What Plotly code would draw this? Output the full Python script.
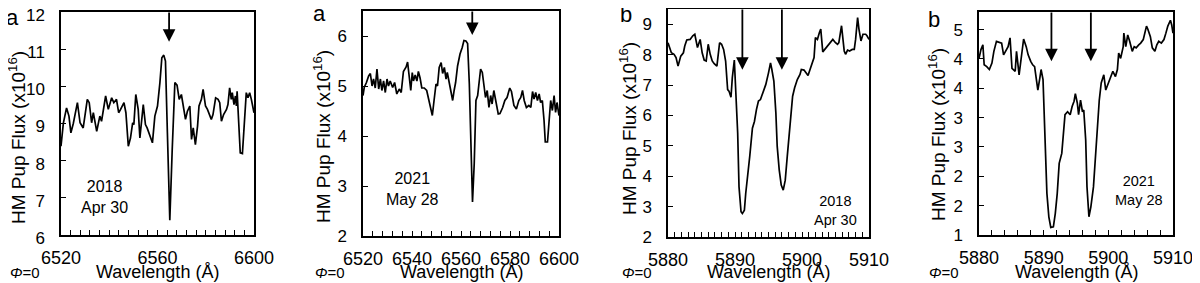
import plotly.graph_objects as go

# ---------------- data ----------------
wl_a1 = [6520.0, 6521.0, 6522.3, 6523.3, 6524.1, 6525.1, 6526.8, 6527.9, 6529.2, 6530.9, 6531.7, 6532.7,
         6533.4, 6534.8, 6536.1, 6536.8, 6538.5, 6539.6, 6541.0, 6541.9, 6543.0, 6543.9, 6544.7, 6546.1,
         6546.9, 6547.9, 6548.8, 6549.7, 6550.2, 6551.0, 6552.0, 6552.7, 6554.1, 6555.0, 6555.7, 6556.8,
         6557.9, 6558.9, 6560.0, 6561.0, 6561.8, 6562.6, 6563.3, 6564.1, 6565.1, 6566.1, 6567.2, 6568.1,
         6569.0, 6569.9, 6570.6, 6571.6, 6572.4, 6573.4, 6574.1, 6574.8, 6575.7, 6576.6, 6577.2, 6578.2,
         6578.9, 6579.9, 6580.7, 6581.7, 6582.3, 6583.0, 6584.1, 6585.1, 6585.8, 6586.5, 6587.4, 6588.6,
         6589.2, 6589.9, 6590.6, 6591.0, 6591.7, 6592.3, 6592.7, 6593.0, 6593.8, 6594.3, 6595.2, 6595.9,
         6596.8, 6597.5, 6598.2, 6598.9, 6600.0]
flux_a1 = [8.39, 9.02, 9.42, 9.20, 8.75, 9.00, 9.56, 9.02, 8.88, 9.65, 9.56, 9.02,
           9.29, 8.79, 9.20, 9.06, 9.74, 9.38, 9.69, 9.56, 9.65, 9.29, 9.38, 9.56,
           9.29, 8.39, 8.61, 9.02, 8.97, 9.78, 9.38, 8.61, 9.51, 8.97, 8.88, 8.66,
           8.48, 9.20, 9.47, 10.10, 10.77, 10.84, 10.68, 8.75, 6.40, 8.30, 10.10, 10.03,
           9.65, 9.78, 9.47, 9.11, 9.33, 9.47, 8.57, 8.88, 8.43, 8.93, 9.47, 9.65,
           9.92, 9.47, 9.38, 9.24, 9.11, 9.24, 9.69, 9.65, 9.56, 9.06, 9.24, 9.38,
           9.51, 9.96, 9.65, 9.83, 9.51, 9.74, 9.47, 9.87, 8.75, 8.21, 8.19, 8.93,
           9.83, 9.69, 9.83, 9.65, 9.29]

wl_a2 = [6520.0, 6520.5, 6521.4, 6522.3, 6523.0, 6523.7, 6524.3, 6525.0, 6525.7, 6526.4, 6527.1, 6527.7,
         6528.4, 6529.1, 6529.8, 6530.4, 6531.1, 6532.1, 6532.9, 6533.8, 6534.8, 6535.6, 6536.5, 6537.6,
         6538.2, 6538.8, 6539.5, 6540.1, 6540.6, 6541.3, 6542.0, 6542.6, 6543.3, 6544.0, 6545.0, 6546.0,
         6547.0, 6547.8, 6548.3, 6549.0, 6549.8, 6550.4, 6551.1, 6551.9, 6552.5, 6553.2, 6553.9, 6554.4,
         6555.3, 6555.9, 6556.6, 6557.2, 6557.8, 6558.6, 6559.6, 6560.5, 6561.2, 6562.0, 6562.7, 6563.4,
         6564.1, 6564.7, 6565.4, 6566.1, 6566.8, 6567.5, 6568.0, 6568.7, 6569.4, 6570.0, 6570.7, 6571.4,
         6572.1, 6572.7, 6573.4, 6574.1, 6575.2, 6575.9, 6577.0, 6577.9, 6578.8, 6579.9, 6580.6, 6581.6,
         6582.6, 6583.6, 6584.4, 6585.1, 6585.8, 6586.7, 6587.7, 6588.5, 6589.2, 6589.8, 6590.5, 6591.2,
         6591.9, 6592.5, 6593.2, 6593.9, 6594.4, 6595.3, 6595.9, 6596.6, 6597.3, 6598.0, 6598.6, 6599.2,
         6600.0]
flux_a2 = [4.81, 4.97, 5.07, 5.20, 5.25, 5.00, 5.14, 4.96, 5.34, 4.94, 5.14, 4.91,
           5.10, 4.87, 5.14, 5.00, 5.10, 4.97, 5.07, 4.84, 4.94, 4.87, 5.29, 5.38,
           5.48, 5.17, 4.91, 5.27, 5.10, 5.22, 5.10, 5.29, 5.16, 4.96, 4.96, 4.91,
           4.71, 4.57, 4.41, 4.71, 5.04, 5.00, 5.37, 5.47, 5.25, 5.37, 5.14, 5.27,
           5.04, 4.94, 4.71, 4.91, 5.07, 5.40, 5.64, 5.77, 5.91, 5.90, 5.85, 5.04,
           3.91, 2.68, 3.45, 4.71, 4.81, 5.10, 5.34, 5.27, 5.00, 4.77, 4.91, 4.57,
           4.81, 4.64, 4.91, 4.71, 4.44, 4.45, 4.57, 4.71, 4.77, 4.96, 4.89, 4.61,
           4.54, 4.71, 4.77, 4.91, 4.71, 4.57, 4.61, 4.57, 4.89, 4.74, 4.87, 4.71,
           4.84, 4.67, 4.71, 4.31, 3.88, 3.88, 4.31, 4.71, 4.51, 4.81, 4.47, 4.67,
           4.41]

wl_b1 = [5880.0, 5880.3, 5880.5, 5880.9, 5881.2, 5881.5, 5881.9, 5882.3, 5882.5, 5882.8, 5883.3, 5883.7,
         5884.0, 5884.4, 5884.8, 5885.1, 5885.4, 5885.7, 5886.0, 5886.3, 5886.6, 5886.9, 5887.3, 5887.7,
         5888.0, 5888.3, 5888.6, 5888.9, 5889.1, 5889.4, 5889.6, 5889.9, 5890.1, 5890.4, 5890.6, 5890.9,
         5891.1, 5891.4, 5891.6, 5891.9, 5892.2, 5892.6, 5892.9, 5893.2, 5893.5, 5893.8, 5894.2, 5894.6,
         5895.0, 5895.3, 5895.5, 5895.8, 5896.1, 5896.3, 5896.6, 5896.9, 5897.2, 5897.5, 5897.8, 5898.2,
         5898.6, 5898.9, 5899.3, 5899.7, 5899.9, 5900.3, 5900.6, 5900.9, 5901.2, 5901.5, 5901.8, 5902.0,
         5902.3, 5902.6, 5902.8, 5903.1, 5903.4, 5903.8, 5904.2, 5904.6, 5905.0, 5905.3, 5905.5, 5905.9,
         5906.3, 5906.5, 5906.8, 5907.1, 5907.5, 5907.8, 5908.0, 5908.3, 5908.5, 5908.8, 5909.1, 5909.5,
         5909.7, 5910.0]
flux_b1 = [8.39, 8.23, 8.06, 8.01, 7.90, 7.62, 7.95, 8.06, 8.28, 8.48, 8.50, 8.62,
           8.67, 8.23, 8.50, 8.06, 7.82, 7.79, 8.34, 8.01, 7.79, 7.70, 7.62, 8.39,
           8.34, 8.17, 7.79, 6.85, 6.80, 6.60, 7.24, 7.82, 6.96, 5.42, 3.65, 2.83,
           2.77, 2.88, 3.43, 3.98, 4.65, 5.58, 5.80, 6.19, 6.47, 6.52, 6.74, 7.02,
           7.40, 7.73, 7.51, 7.13, 6.08, 4.98, 4.21, 3.71, 3.54, 3.87, 4.65, 5.53,
           6.63, 6.91, 7.18, 7.35, 7.51, 7.49, 7.40, 7.31, 7.51, 7.73, 7.90, 8.56,
           8.50, 8.73, 8.84, 8.09, 8.17, 8.28, 8.39, 8.50, 8.39, 8.34, 8.39, 8.95,
           8.12, 8.01, 8.15, 8.12, 8.17, 8.17, 8.50, 9.22, 8.84, 8.45, 8.67, 8.67,
           8.62, 8.50]

wl_b2 = [5880.0, 5880.3, 5880.6, 5880.8, 5881.2, 5881.6, 5882.0, 5882.3, 5882.7, 5883.1, 5883.5, 5883.8,
         5884.2, 5884.5, 5884.8, 5885.1, 5885.6, 5885.8, 5886.2, 5886.6, 5886.9, 5887.3, 5887.6, 5888.0,
         5888.3, 5888.6, 5888.9, 5889.1, 5889.4, 5889.6, 5889.9, 5890.2, 5890.5, 5890.8, 5891.1, 5891.5,
         5891.8, 5892.1, 5892.4, 5892.8, 5893.1, 5893.3, 5893.7, 5894.1, 5894.4, 5894.7, 5894.9, 5895.2,
         5895.4, 5895.7, 5896.0, 5896.2, 5896.5, 5896.7, 5897.0, 5897.3, 5897.7, 5898.0, 5898.3, 5898.6,
         5898.9, 5899.3, 5899.6, 5900.0, 5900.3, 5900.7, 5901.1, 5901.4, 5901.6, 5901.9, 5902.3, 5902.4,
         5902.7, 5903.0, 5903.3, 5903.7, 5904.0, 5904.3, 5904.7, 5905.0, 5905.4, 5905.6, 5905.9, 5906.1,
         5906.5, 5906.8, 5907.2, 5907.5, 5907.8, 5908.2, 5908.6, 5908.9, 5909.2, 5909.6, 5909.8, 5910.0]
flux_b2 = [4.01, 4.16, 4.24, 3.90, 3.87, 3.82, 3.93, 4.13, 4.30, 4.28, 4.27, 4.07,
           4.16, 4.21, 4.36, 3.84, 3.79, 4.13, 3.73, 4.04, 4.34, 4.21, 4.07, 3.96,
           3.90, 3.87, 3.59, 3.47, 3.67, 3.82, 3.65, 2.45, 1.71, 1.31, 1.13, 1.14,
           1.37, 1.71, 2.22, 2.39, 2.73, 3.05, 3.10, 3.05, 3.19, 3.28, 3.41, 3.25,
           3.05, 3.30, 3.10, 3.13, 2.62, 1.82, 1.31, 1.48, 1.82, 2.28, 2.85, 3.30,
           3.59, 3.73, 3.47, 3.59, 3.67, 3.79, 3.70, 3.82, 4.10, 4.01, 4.21, 4.44,
           4.21, 4.41, 4.30, 4.13, 4.21, 4.19, 4.24, 4.27, 4.33, 4.41, 4.56, 4.51,
           4.38, 4.19, 4.13, 4.24, 4.30, 4.27, 4.33, 4.44, 4.56, 4.66, 4.58, 4.44]

# axis settings per panel
x_ranges = [[6520, 6600], [6520, 6600], [5880, 5910], [5880, 5910]]
x_major = [40, 20, 10, 10]
x_minor = [4, 4, 1, 2]
y_ranges = [[6, 12], [2, 6.5], [2, 9.5], [1, 4.8]]
y_tickvals = [[6, 7, 8, 9, 10, 11, 12], [2, 3, 4, 5, 6], [2, 3, 4, 5, 6, 7, 8, 9],
              [1, 1.5, 2, 2.5, 3, 3.5, 4, 4.5]]
y_ticktext = [["6", "7", "8", "9", "10", "11", "12"], ["2", "3", "4", "5", "6"],
              ["2", "3", "4", "5", "6", "7", "8", "9"],
              ["1", "2", "2", "3", "3", "4", "4", "5"]]

# arrows: wavelength of line, tip flux
arrow_wl = [[6564.8], [6564.6], [5891.1, 5897.0], [5891.2, 5897.3]]
arrow_tip = [[11.2], [6.02], [7.5, 7.5], [3.96, 3.96]]

panel_letters = ["a", "a", "b", "b"]
dates = ["2018<br>Apr 30", "2021<br>May 28", "2018<br>Apr 30", "2021<br>May 28"]

# ---------------- layout geometry (figure pixels; page adds an 8 px body margin) ----------------
W, H = 1200, 283
x_px = [(53, 246), (355, 551), (660, 861), (971, 1165)]
y_px = [(4, 227), (3, 228), (1, 229), (4, 227)]
letter_px = [(4, 9), (311, 5), (618, 7), (926, 11)]
date_px = [(97, 189), (404, 181), (828, 202), (1131, 182)]
date_size = [16, 16, 14.5, 14.5]
ytitle_px = [9, 314, 620, 929]
ytitle_cy = [130, 129, 121, 127]
ylabel_shift = [3, 0, 0, 0]
phi_px = [0, 305, 612, 919]
xtitle_y = 264

FONT = "Arial, Liberation Sans, sans-serif"

fig = go.Figure()
series = [(wl_a1, flux_a1), (wl_a2, flux_a2), (wl_b1, flux_b1), (wl_b2, flux_b2)]

for i, (wl, fl) in enumerate(series):
    n = "" if i == 0 else str(i + 1)
    fig.add_trace(go.Scatter(x=wl, y=fl, mode="lines", line=dict(color="black", width=1.7),
                             xaxis="x" + n, yaxis="y" + n, showlegend=False))
    x0, x1 = x_px[i]
    yt, yb = y_px[i]
    fig.update_layout(**{
        "xaxis" + n: dict(
            domain=[x0 / W, x1 / W], range=x_ranges[i], anchor="y" + n, automargin=False,
            showline=True, mirror=True, linecolor="black", linewidth=1.5,
            showgrid=False, zeroline=False,
            ticks="inside", ticklen=5, tickwidth=1, tickcolor="black",
            dtick=x_major[i], tick0=x_ranges[i][0],
            minor=dict(dtick=x_minor[i], ticks="inside", ticklen=5, tickwidth=1,
                       tickcolor="black", showgrid=False),
            tickfont=dict(family=FONT, size=18, color="black"),
            ticklabelstandoff=6, ticklabeloverflow="allow",
        ),
        "yaxis" + n: dict(
            domain=[1 - yb / H, 1 - yt / H], range=y_ranges[i], anchor="x" + n, automargin=False,
            showline=True, mirror=True, linecolor="black", linewidth=1.5,
            showgrid=False, zeroline=False,
            ticks="inside", ticklen=5, tickwidth=1, tickcolor="black",
            tickvals=y_tickvals[i], ticktext=y_ticktext[i],
            tickfont=dict(family=FONT, size=17, color="black"),
            ticklabelstandoff=11, ticklabelshift=ylabel_shift[i], ticklabeloverflow="allow",
        ),
    })
    # arrows
    for awl, atip in zip(arrow_wl[i], arrow_tip[i]):
        fig.add_annotation(x=awl, y=atip, ax=awl, ay=y_ranges[i][1], xref="x" + n, yref="y" + n,
                           axref="x" + n, ayref="y" + n, text="", showarrow=True,
                           font=dict(size=1), borderpad=0,
                           arrowhead=2, arrowsize=1.4, arrowwidth=1.8, arrowcolor="black")
    # panel letter
    lx, ly = letter_px[i]
    fig.add_annotation(x=lx / W, y=1 - ly / H, xref="paper", yref="paper", text=panel_letters[i],
                       showarrow=False, font=dict(family=FONT, size=22, color="black"),
                       xanchor="center", yanchor="middle")
    # date label
    dx, dy = date_px[i]
    fig.add_annotation(x=dx / W, y=1 - dy / H, xref="paper", yref="paper", text=dates[i],
                       showarrow=False, font=dict(family=FONT, size=date_size[i], color="black"),
                       xanchor="center", yanchor="middle")
    # y title
    fig.add_annotation(x=ytitle_px[i] / W, y=1 - ytitle_cy[i] / H, xref="paper", yref="paper",
                       text="HM Pup Flux (x10<sup>16</sup>)", textangle=-90, showarrow=False,
                       font=dict(family=FONT, size=19, color="black"),
                       xanchor="center", yanchor="middle")
    # x title
    fig.add_annotation(x=((x0 + x1) / 2) / W, y=1 - xtitle_y / H, xref="paper", yref="paper",
                       text="Wavelength (Å)", showarrow=False,
                       font=dict(family=FONT, size=18, color="black"),
                       xanchor="center", yanchor="middle")
    # phase label
    fig.add_annotation(x=phi_px[i] / W, y=1 - xtitle_y / H, xref="paper", yref="paper",
                       text="<i>Φ</i>=0", showarrow=False,
                       font=dict(family=FONT, size=15, color="black"),
                       xanchor="left", yanchor="middle")

fig.update_layout(width=W, height=H, margin=dict(l=0, r=0, t=0, b=0, autoexpand=False),
                  paper_bgcolor="white", plot_bgcolor="white", showlegend=False)

fig.write_html("out.html")
